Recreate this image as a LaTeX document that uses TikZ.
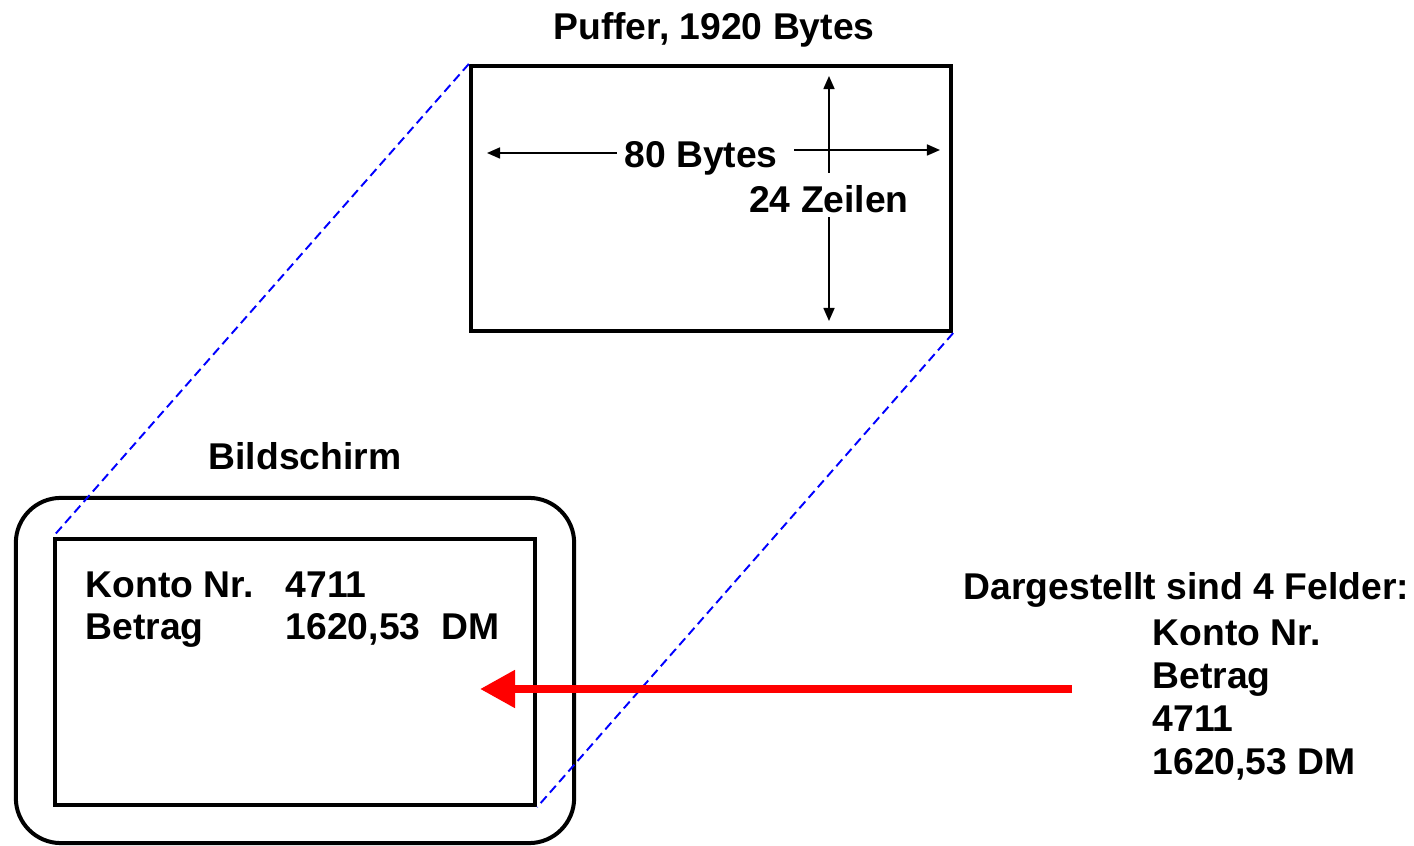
\documentclass[tikz,border=0pt]{standalone}
\usepackage{fontspec}
\setmainfont{Liberation Sans}
\usepackage{xcolor}
\usetikzlibrary{arrows.meta,positioning}
\definecolor{pufblue}{HTML}{0000FF}
\definecolor{feldred}{HTML}{FF0000}

\begin{document}
\begin{tikzpicture}[
  x=0.01cm, y=-0.01cm,
  txt/.style={font=\fontsize{10.6}{12.2}\selectfont\bfseries, inner sep=0pt, align=left},
  box/.style={draw, line width=0.4mm, minimum width=4.8cm, minimum height=2.65cm, inner sep=0pt},
  frame/.style={draw, line width=0.4mm, rounded corners=4.5mm, minimum width=5.58cm,
                minimum height=3.45cm, inner sep=0pt},
  dim/.style={-{Triangle[length=1.3mm,width=1.1mm]}, line width=0.45pt},
  proj/.style={draw=pufblue, line width=0.55pt, dash pattern=on 0.9mm off 0.5mm},
  feld/.style={-{Triangle[length=3.5mm,width=3.6mm]}, draw=feldred, fill=feldred, line width=0.8mm}
]
  \useasboundingbox (0,0) rectangle (1414,846);
  % Puffer oben
  \node[txt] (ptitle) at (714,30) {Puffer, 1920 Bytes};
  \node[box] (puf) at (711,198.5) {};
  \node[txt] (bytes) at (701,158) {80 Bytes};
  \node[txt] (zeil) at (829,199) {24 Zeilen};
  \coordinate (bl) at (487,153);
  \coordinate (br) at (940,150);
  \coordinate (zt) at (829,76);
  \coordinate (zb) at (829,321);
  \draw[dim] (bytes.west) ++(-7,-5) -- (bl);
  \draw[dim] (bytes.east) ++(16,-8) -- (br);
  \draw[dim] (zeil.north) ++(0,-12) -- (zt);
  \draw[dim] (zeil.south) ++(0,4) -- (zb);
  % Bildschirm unten
  \node[txt] (stitle) at (305,456) {Bildschirm};
  \node[frame] (rahmen) at (295,670.5) {};
  \node[box, minimum height=2.66cm] (scr) at (295,672) {};
  \node[txt, anchor=west] (z1) at (85,585) {\makebox[2cm][l]{Konto Nr.}4711};
  \node[txt, anchor=west] (z2) at (85,630) {\makebox[2cm][l]{Betrag}1620,53\hspace{6pt}DM};
  % Projektion
  \draw[proj] (puf.north west) -- (scr.north west);
  \draw[proj] (puf.south east) -- (scr.south east);
  % Felder
  \node[txt, anchor=west] (fkopf) at (963,590) {Dargestellt sind 4 Felder:};
  \node[txt, anchor=north west] (fliste) at (1152,619)
    {Konto Nr.\\Betrag\\4711\\1620,53 DM};
  \coordinate (fstart) at (1072,689);
  \coordinate (fziel) at (480,689);
  \draw[feld] (fstart) -- (fziel);
\end{tikzpicture}
\end{document}
